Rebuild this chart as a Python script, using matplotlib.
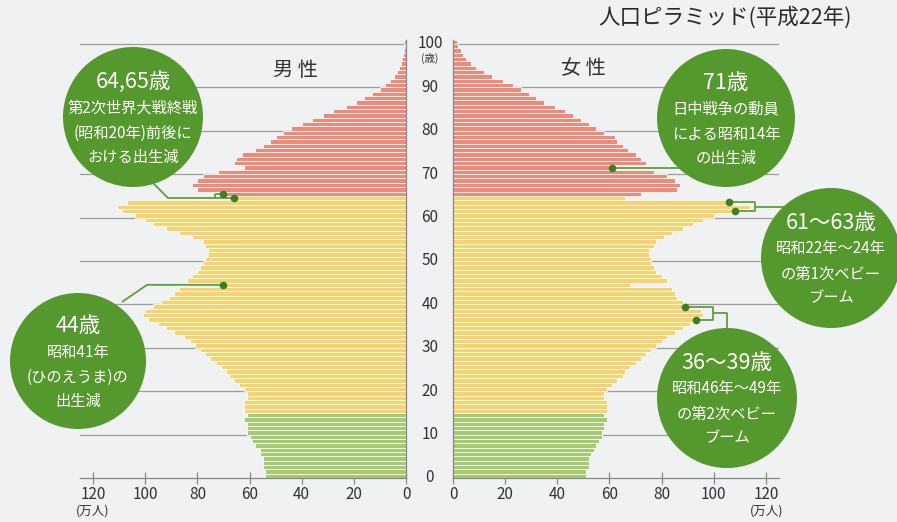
import numpy as np
import matplotlib
matplotlib.use("Agg")
import matplotlib.pyplot as plt
from matplotlib.patches import Circle

plt.rcParams['font.family'] = ['Noto Sans CJK JP', 'DejaVu Sans']

# population by single year of age (10k persons), 2010
ages = np.arange(101)
male = [
    54, 54, 55, 55, 55, 56, 56, 58, 59, 60,
    61, 61, 61, 62, 61, 62, 62, 62, 61, 61,
    62, 64, 66, 68, 69, 71, 73, 75, 77, 79,
    81, 83, 85, 89, 92, 95, 99, 101, 100, 97,
    94, 91, 89, 87, 70, 84, 82, 80, 79, 78,
    77, 76, 76, 77, 78, 82, 87, 92, 97, 100,
    104, 109, 111, 107, 66, 70, 80, 82, 80, 78,
    72, 62, 66, 65, 63, 58, 55, 52, 50, 47,
    44, 40, 36, 32, 28, 23, 19, 16, 13, 10,
    8, 6, 4.5, 3.5, 2.5, 2, 1.5, 1, 0.7, 0.5,
    0.6]
female = [
    51, 51, 52, 52, 52, 53, 54, 55, 56, 57,
    57, 58, 58, 59, 58, 59, 59, 59, 58, 58,
    59, 61, 63, 65, 66, 68, 70, 72, 74, 76,
    78, 80, 82, 85, 88, 91, 93, 96, 95, 89,
    88, 86, 85, 84, 68, 82, 80, 78, 77, 76,
    76, 75, 75, 77, 78, 81, 84, 88, 92, 96,
    100, 108, 114, 106, 66, 72, 86, 87, 85, 82,
    77, 61, 74, 72, 70, 67, 65, 63, 62, 58,
    55, 52, 49, 46, 43, 39, 35, 32, 29, 26,
    23, 19, 15, 12, 9, 7, 5, 4, 3, 2,
    1.5]

age_ticks = list(range(0, 101, 10))
x_ticks = [0, 20, 40, 60, 80, 100, 120]

title = "人口ピラミッド(平成22年)"

# callouts: (lines, center px, radius)
notes = [
    (["64,65歳", "第2次世界大戦終戦", "(昭和20年)前後に", "おける出生減"], (133, 117), 70),
    (["44歳", "昭和41年", "(ひのえうま)の", "出生減"], (78, 361), 68),
    (["71歳", "日中戦争の動員", "による昭和14年", "の出生減"], (726, 118), 69),
    (["61～63歳", "昭和22年～24年", "の第1次ベビー", "ブーム"], (831, 258), 70),
    (["36～39歳", "昭和46年～49年", "の第2次ベビー", "ブーム"], (727, 398), 70),
]

BG = "#eff1f2"
RED = "#ec8b7c"
YEL = "#f5d470"
GRN = "#a6ca72"
CIRC = "#55982d"
LINE = "#5e9f3c"
GRID = "#9d9d9d"

W, H = 897, 522
fig = plt.figure(figsize=(W / 100, H / 100), dpi=100, facecolor=BG)


def frac(x0, y0, x1, y1):
    return [x0 / W, 1 - y1 / H, (x1 - x0) / W, (y1 - y0) / H]


axL = fig.add_axes(frac(80, 39.6, 406, 478))
axR = fig.add_axes(frac(453, 39.6, 779, 478))

cols = [GRN if a < 15 else (YEL if a < 65 else RED) for a in ages]

for ax, vals in ((axL, male), (axR, female)):
    ax.patch.set_alpha(0)
    ax.barh(ages + 0.5, vals, height=1.0, color=cols, edgecolor="#fbfbf8",
            linewidth=0.6, zorder=2)
    for a in age_ticks[1:]:
        ax.axhline(a, color=GRID, lw=0.9, zorder=1)
    ax.set_ylim(0, 101)
    ax.set_xticks(x_ticks)
    ax.set_xticklabels([str(t) for t in x_ticks], fontsize=11, color="#333333")
    ax.tick_params(axis="x", direction="inout", length=8, width=0.9, color="#888888", pad=2)
    ax.tick_params(axis="y", left=False, right=False, labelleft=False, labelright=False)
    for s in ax.spines.values():
        s.set_color("#888888")
        s.set_linewidth(0.9)
    ax.spines["top"].set_visible(False)

axL.set_xlim(125, 0)
axL.spines["left"].set_visible(False)
axR.set_xlim(0, 125)
axR.spines["right"].set_visible(False)

# overlay in pixel coordinates
ov = fig.add_axes([0, 0, 1, 1], zorder=5)
ov.set_xlim(0, W)
ov.set_ylim(H, 0)
ov.axis("off")
ov.patch.set_alpha(0)


def to_px(ax, x, y):
    d = ax.transData.transform((x, y))
    return ov.transData.inverted().transform(d)


ov.text(852, 18, title, fontsize=15.5, ha="right", va="center", color="#2a2a2a")
ov.text(295, 70, "男 性", fontsize=14.5, ha="center", va="center", color="#333333")
ov.text(583, 69, "女 性", fontsize=14.5, ha="center", va="center", color="#333333")

# age labels between panels
for a in age_ticks:
    _, y = to_px(axL, 0, a)
    ov.text(430, y, str(a), fontsize=11, ha="center", va="center", color="#333333")
_, y100 = to_px(axL, 0, 100)
ov.text(430, y100 + 15, "(歳)", fontsize=7.5, ha="center", va="center", color="#333333")

ov.text(93, 511, "(万人)", fontsize=9, ha="center", va="center", color="#333333")
ov.text(767, 511, "(万人)", fontsize=9, ha="center", va="center", color="#333333")


def dot(ax, vals, a):
    return to_px(ax, vals[a], a + 0.5)


def poly(pts):
    xs, ys = zip(*pts)
    ov.plot(xs, ys, color=LINE, lw=1.3, zorder=3, solid_capstyle="butt")


def mark(p):
    ov.plot(p[0], p[1], "o", color="#3d7f25", ms=4.5, zorder=4)


# 64,65 (male)
p1 = dot(axL, male, 65)
p2 = dot(axL, male, 64)
bx = 215
poly([(153, 183), (168, 198), (bx, 198)])
poly([(bx, p1[1]), p1])
poly([(bx, p2[1]), p2])
poly([(bx, p1[1]), (bx, p2[1])])
mark(p1)
mark(p2)

# 44 (male)
p = dot(axL, male, 44)
poly([(122, 302), (147, p[1]), p])
mark(p)

# 71 (female)
p = dot(axR, female, 71)
poly([p, (726, p[1])])
mark(p)

# 61-63 (female)
p1 = dot(axR, female, 63)
p2 = dot(axR, female, 61)
bx = 755
poly([p1, (bx, p1[1]), (bx, p2[1]), p2])
ym = (p1[1] + p2[1]) / 2
poly([(bx, ym), (800, ym)])
mark(p1)
mark(p2)

# 36-39 (female)
p1 = dot(axR, female, 39)
p2 = dot(axR, female, 36)
bx = 713
poly([p1, (bx, p1[1]), (bx, p2[1]), p2])
ym = (p1[1] + p2[1]) / 2
poly([(bx, ym), (727, ym), (727, 340)])
mark(p1)
mark(p2)

offsets = [-35, -9, 16, 40]
for lines, (cx, cy), r in notes:
    ov.add_patch(Circle((cx, cy), r, facecolor=CIRC, edgecolor="none", zorder=6))
    for i, (t, dy) in enumerate(zip(lines, offsets)):
        fs = 15.5 if i == 0 else 11
        ov.text(cx, cy + dy, t, fontsize=fs, ha="center", va="center", color="white", zorder=7)

fig.savefig("out.png", dpi=100, facecolor=BG)
